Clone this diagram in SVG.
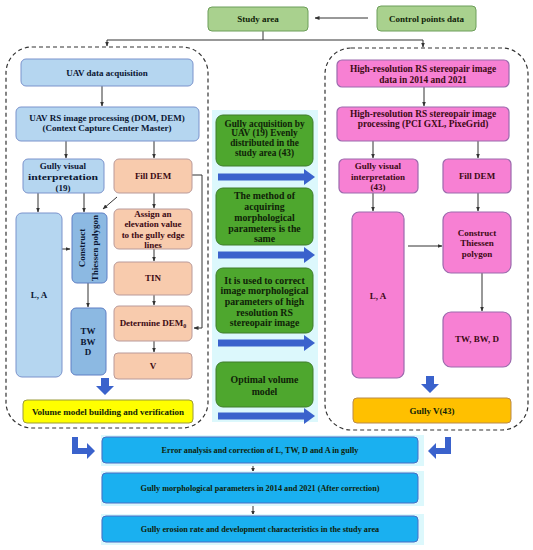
<svg xmlns="http://www.w3.org/2000/svg" width="533" height="550" viewBox="0 0 533 550">
<defs>
<marker id="ah" viewBox="0 0 10 10" refX="9" refY="5" markerWidth="5" markerHeight="5" orient="auto-start-reverse">
<path d="M0,1 L10,5 L0,9 Z" fill="#333"/>
</marker>
<style>
text{font-family:"Liberation Serif","Times New Roman",serif;font-weight:bold;font-size:9px;text-anchor:middle}
.g1{fill:#a9d18e;stroke:#6d9e5a;stroke-width:1}
.bl{fill:#b5d6f0;stroke:#7b93cc;stroke-width:1}
.bd{fill:#8cb9e2;stroke:#5f7fc4;stroke-width:1}
.pe{fill:#f8cbad;stroke:#b99a9a;stroke-width:1}
.pk{fill:#f780d3;stroke:#9b6aad;stroke-width:1.2}
.gr{fill:#4ea72e;stroke:#3e7d2a;stroke-width:1}
.ye{fill:#ffff00;stroke:#9a9a3a;stroke-width:1}
.go{fill:#ffc000;stroke:#b98a4a;stroke-width:1}
.cy{fill:#1ab0f0;stroke:#4a6cc4;stroke-width:1}
.glow{fill:#dcf8fc}
.dash{fill:none;stroke:#333;stroke-width:1.2;stroke-dasharray:4,3}
.ln{fill:none;stroke:#333;stroke-width:1}
.ba{fill:#3a62cc}
.tb{fill:#0b1633}
.tr{fill:#3d0a14}
.tg{fill:#0f2208}
.big{font-size:9.8px}
.mid{font-size:9.3px}
.pkt{font-size:9.4px}
.sm{font-size:8.2px}
</style>
</defs>

<!-- containers -->
<rect class="dash" x="6" y="47" width="202" height="381" rx="26"/>
<rect class="dash" x="325" y="48" width="203" height="382" rx="26"/>
<rect class="glow" x="212" y="110" width="106" height="312"/>

<g id="connectors">
<path class="ln" d="M368,18 H315" marker-end="url(#ah)"/>
<path class="ln" d="M263,31 V40 H107 V46" marker-end="url(#ah)"/>
<path class="ln" d="M263,40 H423 V47" marker-end="url(#ah)"/>
<path class="ln" d="M102,86 V106" marker-end="url(#ah)"/>
<path class="ln" d="M66,141 V158" marker-end="url(#ah)"/>
<path class="ln" d="M154,141 V158" marker-end="url(#ah)"/>
<path class="ln" d="M38,193 V212" marker-end="url(#ah)"/>
<path class="ln" d="M84,193 V212" marker-end="url(#ah)"/>
<path class="ln" d="M117,197 L103,209" marker-end="url(#ah)"/>
<path class="ln" d="M154,193 V208" marker-end="url(#ah)"/>
<path class="ln" d="M60,249 H70" marker-end="url(#ah)"/>
<path class="ln" d="M88,283 V307" marker-end="url(#ah)"/>
<path class="ln" d="M154,249 V261" marker-end="url(#ah)"/>
<path class="ln" d="M154,295 V305" marker-end="url(#ah)"/>
<path class="ln" d="M154,341 V352" marker-end="url(#ah)"/>
<path class="ln" d="M192,175 H202 V328 H194" marker-end="url(#ah)"/>
<path class="ln" d="M424,87 V106" marker-end="url(#ah)"/>
<path class="ln" d="M373,141 V158" marker-end="url(#ah)"/>
<path class="ln" d="M478,141 V158" marker-end="url(#ah)"/>
<path class="ln" d="M373,193 V211" marker-end="url(#ah)"/>
<path class="ln" d="M478,193 V211" marker-end="url(#ah)"/>
<path class="ln" d="M408,246 H442" marker-end="url(#ah)"/>
<path class="ln" d="M482,273 V311" marker-end="url(#ah)"/>
<path class="ln" d="M253,463 V472" marker-end="url(#ah)"/>
<path class="ln" d="M253,503 V515" marker-end="url(#ah)"/>
<!-- block arrows -->
<path class="ba" d="M218,173.5 H304 V169 L315,177 L304,185 V180.5 H218 Z"/>
<path class="ba" d="M218,251.5 H304 V247 L315,255 L304,263 V258.5 H218 Z"/>
<path class="ba" d="M218,339.5 H304 V335 L315,343 L304,351 V346.5 H218 Z"/>
<path class="ba" d="M218,412.5 H304 V408 L315,416 L304,424 V419.5 H218 Z"/>
<path class="ba" d="M101,378 H109 V386 H114 L105,395 L96,386 H101 Z"/>
<path class="ba" d="M426,376 H434 V384 H439 L430,393 L421,384 H426 Z"/>
<path class="ba" d="M72,437 H78 V448 H87 V443 L95,451 L87,459 V454 H72 Z"/>
<path class="ba" d="M451,437 H445 V448 H436 V443 L428,451 L436,459 V454 H451 Z"/>
</g>

<g id="study"><rect class="g1" x="208" y="7" width="100" height="24" rx="4"/><text x="258" y="22" class="tg">Study area</text></g>
<g id="control"><rect class="g1" x="377" y="6" width="99" height="25" rx="4"/><text x="426.5" y="21.5" class="tg">Control points data</text></g>

<g id="uav-acq"><rect class="bl" x="21" y="59" width="172" height="27" rx="5"/><text x="107" y="75.5" class="tb">UAV data acquisition</text></g>
<g id="uav-proc"><rect class="bl" x="16" y="107" width="183" height="34" rx="5"/><text x="107" y="121" class="tb">UAV RS image processing (DOM, DEM)</text><text x="107" y="131" class="tb">(Context Capture Center Master)</text></g>
<g id="gvi-l"><rect class="bl" x="23" y="159" width="81" height="34" rx="5"/><text x="63" y="169" class="tb">Gully visual</text><text x="63" y="180" class="tb" textLength="70" lengthAdjust="spacingAndGlyphs">interpretation</text><text x="63" y="190.5" class="tb">(19)</text></g>
<g id="fill-l"><rect class="pe" x="114" y="159" width="78" height="34" rx="5"/><text x="153" y="179" class="tr">Fill DEM</text></g>
<g id="la-l"><rect class="bl" x="16" y="213" width="46" height="164" rx="6"/><text x="39" y="298" class="tb">L, A</text></g>
<g id="thi-l"><rect class="bd" x="72" y="213" width="35" height="70" rx="5"/><text transform="translate(85,248) rotate(-90)" class="tb">Construct</text><text transform="translate(98,248) rotate(-90)" class="tb">Thiessen polygon</text></g>
<g id="tw-l"><rect class="bd" x="71" y="308" width="35" height="67" rx="5"/><text x="88" y="334" class="tb">TW</text><text x="88" y="345" class="tb">BW</text><text x="88" y="355" class="tb">D</text></g>
<g id="assign"><rect class="pe" x="114" y="209" width="78" height="40" rx="5"/><text x="153" y="217" class="tr">Assign an</text><text x="153" y="227" class="tr">elevation value</text><text x="153" y="238" class="tr">to the gully edge</text><text x="153" y="248" class="tr">lines</text></g>
<g id="tin"><rect class="pe" x="114" y="262" width="78" height="33" rx="5"/><text x="153" y="281" class="tr">TIN</text></g>
<g id="dem0"><rect class="pe" x="114" y="306" width="78" height="35" rx="5"/><text x="153" y="326" class="tr">Determine DEM<tspan font-size="6" dy="2">0</tspan></text></g>
<g id="v"><rect class="pe" x="114" y="353" width="78" height="26" rx="4"/><text x="153" y="369" class="tr">V</text></g>
<g id="volume"><rect class="ye" x="23" y="400" width="170" height="23" rx="4"/><text x="108" y="414.5" class="tg">Volume model building and verification</text></g>

<g id="c1"><rect class="gr" x="216" y="115" width="97" height="51" rx="7"/><text x="264.5" y="126.5" class="tg mid">Gully acquisition by</text><text x="264.5" y="136.3" class="tg mid">UAV (19) Evenly</text><text x="264.5" y="146.1" class="tg mid">distributed in the</text><text x="264.5" y="155.9" class="tg mid">study area (43)</text></g>
<g id="c2"><rect class="gr" x="216" y="188" width="97" height="57" rx="7"/><text x="264.5" y="198.5" class="tg big">The method of</text><text x="264.5" y="209.5" class="tg big">acquiring</text><text x="264.5" y="220.5" class="tg big">morphological</text><text x="264.5" y="231.5" class="tg big">parameters is the</text><text x="264.5" y="241.5" class="tg big">same</text></g>
<g id="c3"><rect class="gr" x="216" y="268" width="97" height="65" rx="7"/><text x="264.5" y="283.5" class="tg big">It is used to correct</text><text x="264.5" y="293.5" class="tg big">image morphological</text><text x="264.5" y="304.5" class="tg big">parameters of high</text><text x="264.5" y="315.5" class="tg big">resolution RS</text><text x="264.5" y="325.5" class="tg big">stereopair image</text></g>
<g id="c4"><rect class="gr" x="216" y="362" width="97" height="45" rx="7"/><text x="264.5" y="382.5" class="tg big">Optimal volume</text><text x="264.5" y="394.5" class="tg big">model</text></g>

<g id="hr-data"><rect class="pk" x="337" y="60" width="172" height="27" rx="5"/><text x="423" y="71.5" class="tr pkt">High-resolution RS stereopair image</text><text x="423" y="82.5" class="tr pkt">data in 2014 and 2021</text></g>
<g id="hr-proc"><rect class="pk" x="337" y="107" width="172" height="34" rx="5"/><text x="423" y="116.5" class="tr pkt">High-resolution RS stereopair image</text><text x="423" y="126.5" class="tr pkt">processing (PCI GXL, PixeGrid)</text></g>
<g id="gvi-r"><rect class="pk" x="339" y="159" width="79" height="34" rx="5"/><text x="378" y="169" class="tr">Gully visual</text><text x="378" y="179.5" class="tr">interpretation</text><text x="378" y="190" class="tr">(43)</text></g>
<g id="fill-r"><rect class="pk" x="443" y="159" width="68" height="34" rx="5"/><text x="477" y="179" class="tr">Fill DEM</text></g>
<g id="la-r"><rect class="pk" x="352" y="212" width="52" height="166" rx="7"/><text x="378" y="299" class="tr">L, A</text></g>
<g id="thi-r"><rect class="pk" x="443" y="212" width="68" height="61" rx="8"/><text x="477" y="236" class="tr">Construct</text><text x="477" y="246" class="tr">Thiessen</text><text x="477" y="257" class="tr">polygon</text></g>
<g id="tw-r"><rect class="pk" x="443" y="312" width="68" height="55" rx="8"/><text x="477" y="342" class="tr">TW, BW, D</text></g>
<g id="gullyv"><rect class="go" x="353" y="398" width="158" height="25" rx="4"/><text x="432" y="414" class="tg">Gully V(43)</text></g>

<g id="err"><rect class="glow" x="101" y="435" width="323" height="31"/><rect class="cy" x="102" y="437" width="316" height="26" rx="4"/><text x="260" y="453" class="tg sm">Error analysis and correction of L, TW, D and A in gully</text></g>
<g id="morph"><rect class="glow" x="101" y="471" width="323" height="35"/><rect class="cy" x="102" y="473" width="316" height="30" rx="4"/><text x="260" y="491" class="tg sm">Gully morphological parameters in 2014 and 2021 (After correction)</text></g>
<g id="erosion"><rect class="glow" x="101" y="514" width="323" height="31"/><rect class="cy" x="102" y="516" width="316" height="26" rx="4"/><text x="260" y="532" class="tg sm">Gully erosion rate and development characteristics in the study area</text></g>
</svg>
